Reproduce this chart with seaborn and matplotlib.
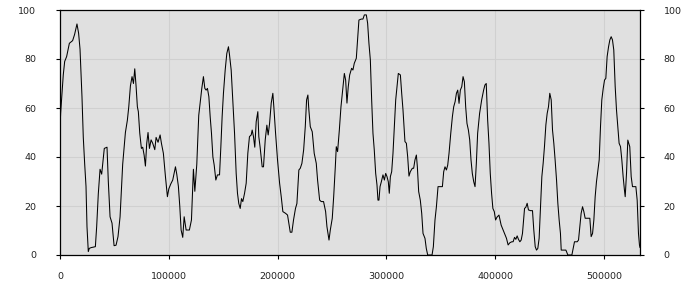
import matplotlib
matplotlib.use("Agg")
import matplotlib.pyplot as plt
import seaborn as sns
import pandas as pd

# x positions in thousands
x_thousands = [
    0, 0.6, 1.8, 3.0, 4.3, 6.1, 8.6, 11.6, 13.4, 15.6, 17.1, 18.4, 19.3, 20.2, 21.4, 22.7, 23.9, 24.8,
    26.0, 26.9, 28.5, 32.5, 33.7, 35.2, 36.8, 38.3, 39.2, 40.7, 43.2, 44.4, 46.0, 47.8, 49.7, 51.5,
    53.3, 55.2, 57.6, 60.1, 61.9, 63.2, 64.7, 66.2, 67.5, 68.7, 69.9, 71.1, 72.0, 73.3, 74.8, 76.0,
    77.3, 78.5, 79.7, 80.9, 82.2, 83.7, 85.2, 87.1, 88.3, 90.1, 92.0, 93.2, 95.0, 96.9, 98.7, 100.0,
    101.8, 103.6, 106.1, 107.3, 108.8, 110.1, 111.3, 112.8, 114.1, 115.9, 118.9, 120.8, 122.6, 123.9,
    125.7, 127.5,
    128.8, 130.3, 131.8, 133.1, 134.3, 135.5, 136.8, 138.0, 139.2, 140.5, 141.7, 143.2, 144.7, 146.6,
    147.8, 149.0, 150.2, 151.8, 153.3, 154.8, 155.8, 157.3, 158.8, 160.4, 161.9, 163.1, 164.3, 165.6,
    166.8, 168.0, 169.6, 171.1, 172.6, 174.1, 175.7, 176.6, 177.8, 179.0, 180.3, 181.8, 182.7, 183.9,
    185.8, 187.0, 188.6, 190.1, 191.3, 192.6, 194.1, 195.6, 196.5, 198.1, 199.9, 201.8, 203.3, 204.8,
    207.3, 209.1, 210.3, 211.6, 213.1, 214.6, 216.4, 217.7, 219.5, 220.8, 222.3, 223.9, 225.4, 226.6,
    227.8, 228.7, 230.0, 231.8, 233.6, 235.5, 236.7, 238.6, 240.1, 242.2, 244.1, 245.3, 247.2, 248.4,
    250.2, 251.5, 253.0, 253.9, 255.1, 256.7, 258.2, 259.7, 261.3, 262.5, 263.7, 264.9, 266.2,
    268.0, 269.2, 270.4, 272.3, 273.5, 274.7, 276.9, 278.4, 279.7, 281.5, 282.7, 283.9, 285.2, 286.4,
    287.6, 288.8, 290.1, 291.3, 292.2, 293.1, 294.1, 295.3, 296.8, 298.1, 299.3, 300.5, 301.7, 302.6,
    303.6, 304.8, 306.0, 307.2, 308.5, 309.7, 310.9, 312.8, 314.0, 315.2, 317.0, 318.3, 319.5, 320.7,
    321.9, 323.8, 325.0, 326.2, 327.5, 328.4, 329.6, 331.1, 332.4, 333.6, 335.4, 336.6, 337.9, 339.7,
    341.9, 343.1, 344.6, 345.9, 347.4, 348.9, 351.4, 352.6, 353.8, 355.1, 356.3, 357.5, 359.1, 360.6,
    361.8, 363.1, 364.3, 365.5, 366.7, 367.9, 369.2, 370.4, 371.6, 372.8, 374.0, 375.3, 376.5, 377.7,
    378.9, 380.2, 381.4, 382.6, 383.8, 385.6, 387.5, 389.3, 390.5, 391.7, 393.0, 394.2, 395.4, 396.6,
    397.8, 399.1, 400.3, 401.5, 403.4,
    405.4, 407.2, 409.1, 410.3, 411.8, 413.4, 415.2, 416.4, 417.7, 418.9, 420.1, 421.3, 422.6, 423.8,
    425.0, 426.9, 428.1, 429.3, 430.5, 432.4, 434.2, 435.4, 436.7, 437.9, 439.1, 440.3, 441.6, 442.8,
    444.0, 445.2, 446.5, 447.7, 448.9, 450.1, 451.4, 452.6, 453.8, 455.0, 456.3, 457.5, 458.7, 459.9,
    460.6, 462.4, 464.9, 466.7, 470.4, 471.6, 472.8, 475.3, 476.5, 477.7, 478.9, 480.2, 481.4, 482.6,
    484.5, 486.9, 488.1, 489.4, 490.6, 491.8, 493.0, 494.3, 495.5, 496.7, 497.9, 499.2, 500.4, 501.6,
    502.8, 504.1, 505.3, 506.5, 507.7, 508.9, 510.2, 511.4, 512.6, 513.8, 515.1, 516.3, 517.5, 518.7,
    519.4, 520.6, 521.8, 522.7, 523.6, 524.9, 526.1, 529.2, 530.4, 531.6, 532.5, 533.0,
]

values = [
    52, 58, 66, 73.5, 79, 81, 86.4, 87.5, 90, 94.3, 90.5, 84, 74, 64.6, 48, 37, 28, 11.6,
    1.4, 2.7, 3, 3.4, 11.6, 25, 35, 33, 37, 43.5, 44, 30, 15.6, 13, 3.8, 4,
    7.5, 15.6, 37, 50, 55, 60.5, 69, 72.8, 70, 76, 69, 60.5, 58.5, 49.7, 43.5, 44,
    40.8, 36.3, 45.6, 50, 43.5, 47, 45.6, 43, 48, 46, 49, 45.6, 41.5, 32, 23.8, 27,
    29, 30.6, 36, 33, 28, 19.7, 10.2, 7.2, 15.6, 10.2, 10.2, 14.3, 35, 26,
    37, 57,
    62, 68, 72.8, 68, 67.3, 68, 64.6, 56.5, 49.7, 40, 36.7, 30.6, 32.7, 32.7,
    44, 56.5, 66, 75.5, 82.3, 85, 81.6, 75.5, 63.3, 49.7, 33.3, 25.2, 21, 19,
    23, 21.8, 25.2, 29.3, 41.5, 48.3, 49, 51, 48.3, 44, 54.4, 58.5, 48.3, 44,
    36, 36, 47, 53, 49, 53.7, 62, 66, 60.5, 49.7, 38.8, 29.3, 23.8, 17.7,
    17, 16.3, 13, 9.3, 9.3, 14.3, 19, 21, 34.7, 35.4, 37.4, 42.9, 52.4, 63.3,
    65.3, 59.2, 52.4, 50.3, 41.5, 37.4, 30.6, 22.4, 21.8, 21.8, 17.7, 11.6, 6.1, 10.2,
    15, 23.8, 36, 44.2, 42.2, 51, 60.5, 67.3, 74.1, 71.4, 62, 68.7, 73.5,
    76.2, 75.5, 78.2, 80.3, 87.8, 95.9, 96.3, 96.3, 98, 98, 94.6, 86.4, 79.6, 63.3,
    49.7, 42.9, 33.3, 28.6, 22.4, 22.4, 27.9, 29.9, 32.7, 30.6, 33.3, 32, 29.9, 25.2,
    32, 34, 41.5, 52.4, 63.3, 68.7, 74.1, 73.5, 66, 59.2, 46.3, 45.6, 40.1, 32.2,
    34, 35.4, 35.4, 38.8, 40.8, 36, 25.9, 22.4, 17, 8.8, 6.8, 2.7, 0, 0,
    0, 3.4, 14.3, 19.7, 27.9, 27.9, 27.9, 34, 36, 34.7, 36.7, 41.5, 49.7, 56.5,
    60.5, 62.6, 66, 67.3, 61.9, 67.3, 68.7, 72.8, 70.7, 60.5, 53.7, 51, 47, 38.8,
    33.3, 29.9, 27.9, 37.4, 49.7, 57.8, 63.3, 67.3, 69.4, 70, 55.1, 45.6, 33.3, 25.2,
    19, 17.7, 14.3, 15.4, 16.3,
    12.2, 10.2, 8.2, 6.8, 4.1, 5, 5.4, 5.4, 7.2, 6.4, 7.8, 6.4, 5.4, 6.1,
    8.8, 19, 19.5, 21.1, 18.4, 18.1, 18.1, 10.2, 3.4, 2, 2.7, 6.8, 19.7, 32,
    37.4, 44.2, 53.1, 57.8, 60.5, 66, 63.3, 51, 45.6, 38.8, 30.6, 21.1, 14.3, 8.8,
    2, 2, 2, 0, 0, 2.7, 5.4, 5.4, 6.1, 11.6, 17, 19.7, 17.7, 15,
    15, 15, 7.5, 8.8, 14.3, 23.8, 29.9, 34.7, 38.8, 52.4, 63.3, 68, 71.4, 72.1,
    81, 85, 87.8, 89.1, 87.8, 83.7, 68.7, 59.2, 52.4, 45.6, 44.2, 38.8, 32, 26.5,
    23.8, 33.3, 46.9, 45.6, 44.2, 32, 27.9, 27.9, 22.4, 8.8, 4.1, 3,
]

x_ticks = [0, 100000, 200000, 300000, 400000, 500000]
y_ticks = [0, 20, 40, 60, 80, 100]

df = pd.DataFrame({"x": [v * 1000 for v in x_thousands], "y": values})

sns.set_style("white")
plt.rcParams["font.family"] = ["DejaVu Sans"]

fig = plt.figure(figsize=(7, 3), dpi=100)
ax = fig.add_axes([60 / 700, 45 / 300, 580 / 700, 245 / 300])
ax.set_facecolor("#e0e0e0")

sns.lineplot(data=df, x="x", y="y", ax=ax, color="black", linewidth=0.75, sort=False)

ax.set_xlim(0, 533000)
ax.set_ylim(0, 100)
ax.set_xticks(x_ticks)
ax.set_yticks(y_ticks)
ax.set_xticklabels([str(t) for t in x_ticks])
ax.set_yticklabels([str(t) for t in y_ticks])
ax.grid(True, color="#d0d0d0", linewidth=0.8)
ax.set_axisbelow(True)
ax.set_xlabel("")
ax.set_ylabel("")

for s in ax.spines.values():
    s.set_visible(True)
    s.set_color("black")
    s.set_linewidth(0.9)

ax.tick_params(axis="y", which="both", left=True, right=True, labelleft=True, labelright=True,
               direction="out", length=3, width=0.8, color="black", labelsize=6.8, pad=14,
               labelcolor="#222222")
ax.tick_params(axis="x", which="both", bottom=True, top=False, direction="out", length=3,
               width=0.8, color="black", labelsize=6.8, pad=9, labelcolor="#222222")

fig.savefig("out.png", dpi=100, facecolor="white")
